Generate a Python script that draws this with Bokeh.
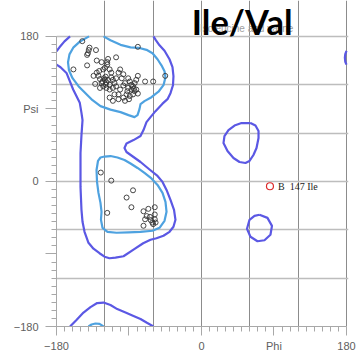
from bokeh.plotting import figure
from bokeh.models import FixedTicker, Range1d
from bokeh.core.properties import value
from bokeh.embed import file_html
from bokeh.resources import INLINE

# ---- residues (phi, psi) ----
beta_phi = [-148, -139, -140, -141, -142, -131, -79, -159, -142, -130, -124, -116, -117, -117, -106,
            -120, -122, -127, -130, -134, -128, -114, -112, -101, -103, -97, -99, -126, -123, -120,
            -118, -116, -119, -114, -110, -108, -106, -132, -126, -122, -118, -114, -110, -106, -101,
            -97, -91, -89, -87, -85, -83, -81, -79, -87, -83, -81, -91, -114, -108, -103, -103, -97,
            -93, -89, -85, -79, -95, -90, -70, -60, -45, -110, -121, -119, -124, -112, -95, -92, -84]
beta_psi = [174, 166, 163, 159, 157, 163, 167, 139, 144, 150, 148, 152, 148, 145, 154,
            141, 139, 137, 135, 131, 131, 139, 135, 139, 135, 133, 128, 127, 124, 126,
            123, 126, 120, 120, 126, 122, 128, 121, 116, 118, 116, 114, 116, 118, 114,
            119, 128, 124, 120, 118, 122, 126, 131, 114, 112, 114, 116, 104, 108, 108, 102, 104,
            108, 106, 108, 109, 100, 102, 124, 124, 131, 100, 128, 130, 122, 129, 122, 112, 115]
alpha_phi = [-125, -112, -85, -93, -87, -117, -72, -66, -58, -68, -64, -58, -70, -63, -58, -61, -57, -60, -72]
alpha_psi = [11, 1, -11, -20, -32, -39, -37, -34, -32, -43, -44, -41, -47, -48, -47, -51, -51, -53, -55]
outlier_phi = [85]
outlier_psi = [-6]
outlier_label = ["B\u00a0\u00a0147 Ile"]

title_text = ["Ile/Val"]
subtitle_text = ["Isoleucine and valine"]

# ---- contours (phi, psi) ----
allowed_main_phi = [-180.0, -175.0, -167.6, -159.3, -151.1, -149.0, -147.7, -149.0, -150.2, -150.2, -149.0,
                    -147.7, -145.2, -140.3, -134.1, -126.6, -120.4, -114.2, -106.8, -96.8, -84.4, -72.4,
                    -63.3, -55.9, -47.2, -39.7, -34.8, -32.3, -34.1, -38.5, -43.4, -48.4, -54.6, -64.5,
                    -75.7, -84.4, -93.1, -95.6, -93.1, -84.4, -75.7, -72.0, -68.3, -63.3, -57.1, -48.4,
                    -42.2, -38.5, -35.4, -34.8, -36.0, -39.7, -45.9, -52.1, -56.5, -59.6]
allowed_main_psi = [145.0, 141.7, 134.6, 114.1, 97.5, 85.1, 76.1, 57.5, 35.3, -6.8, -35.3,
                    -50.1, -62.5, -76.1, -83.5, -89.1, -93.4, -95.3, -94.6, -92.8, -84.7, -76.7,
                    -72.4, -70.5, -67.4, -62.5, -56.3, -47.6, -35.3, -22.9, -10.5, -0.6, 6.8, 14.8,
                    24.1, 30.3, 36.5, 41.4, 47.0, 51.3, 56.3, 63.7, 73.6, 79.8, 87.2, 96.5,
                    102.1, 109.5, 119.4, 130.5, 141.7, 151.6, 162.1, 168.9, 175.1, 180.0]
allowed_topleft_phi = [-163.2, -170.1, -176.3, -180.0]
allowed_topleft_psi = [180.0, 173.8, 166.4, 161.5]
allowed_bottom_phi = [-163.2, -155.2, -146.5, -137.8, -129.5, -121.6, -113.0, -104.6, -94.3, -84.4, -75.7, -68.3, -59.6]
allowed_bottom_psi = [-180.0, -172.0, -162.7, -155.9, -150.9, -150.3, -153.4, -158.4, -162.7, -167.0, -170.7, -175.1, -180.0]
allowed_right_phi = [180.0, 178.5, 178.0, 178.5, 180.0]
allowed_right_psi = [162.0, 158.0, 153.5, 148.5, 145.0]
allowed_lalpha_phi = [60.8, 67.0, 70.8, 70.8, 68.3, 64.5, 59.6, 54.6, 47.2, 39.7, 32.3, 27.3, 28.5, 33.5, 41.0, 49.7, 60.8]
allowed_lalpha_psi = [72.4, 69.3, 62.5, 53.8, 41.4, 32.8, 25.4, 22.9, 24.1, 29.1, 37.7, 47.6, 56.3, 63.7, 69.3, 72.4, 72.4]
allowed_gamma_phi = [72.0, 81.9, 87.5, 85.6, 78.2, 69.5, 60.8, 56.5, 59.6, 65.8, 72.0]
allowed_gamma_psi = [-41.4, -45.2, -55.1, -66.2, -73.0, -74.2, -68.7, -58.8, -47.6, -42.7, -41.4]

favored_beta_phi = [-121.6, -113.0, -100.5, -88.1, -78.2, -68.3, -60.8, -54.6, -49.7, -45.9, -44.7, -47.2,
                    -53.4, -62.1, -70.8, -75.7, -77.0, -79.4, -83.2, -90.6, -100.5, -113.0, -125.4,
                    -135.3, -144.0, -152.7, -160.1, -164.5, -165.7, -163.9, -158.9, -151.4, -144.0, -139.6]
favored_beta_psi = [180.0, 175.1, 169.5, 166.4, 165.8, 163.3, 159.0, 151.6, 144.1, 136.7, 129.3, 119.4,
                    111.3, 104.5, 99.6, 95.9, 89.7, 82.3, 79.8, 82.3, 86.0, 89.1, 93.4,
                    100.8, 109.5, 118.2, 128.1, 137.9, 147.8, 157.7, 166.4, 173.2, 177.5, 180.0]
favored_bottom_phi = [-140.3, -136.5, -131.6, -126.6, -121.6]
favored_bottom_psi = [-180.0, -177.5, -176.3, -176.7, -180.0]
favored_alpha_phi = [-120.4, -113.0, -104.3, -95.6, -88.1, -79.4, -70.8, -62.1, -54.6, -48.4, -44.7, -43.4,
                     -45.9, -52.1, -60.8, -75.7, -90.6, -105.5, -116.7, -122.9, -124.8, -124.1, -125.4,
                     -127.9, -129.7, -130.3, -128.5, -125.4, -120.4]
favored_alpha_psi = [30.9, 31.5, 29.7, 26.6, 22.3, 16.7, 10.5, 3.7, -4.3, -14.2, -25.4, -37.7,
                     -48.9, -57.5, -61.2, -62.5, -63.1, -63.7, -62.5, -57.5, -47.6, -37.7, -26.6,
                     -14.2, -0.6, 14.2, 25.4, 29.7, 30.9]

# ---- axes ticks ----
major_ticks = [-180, -90, 0, 90, 180]
minor_ticks = list(range(-180, 181, 10))
vgrid_ticks = [-120, -60, 0, 60, 120, 180]
hgrid_ticks = [-120, -60, 0, 60, 120, 180]
x_overrides = {-90: "", 90: "Phi"}
y_overrides = {-90: "", 90: "Psi"}

ALLOWED = "#5b58e4"
FAVORED = "#4ea2e0"
FRAME = "#a8a8a8"

# frame extended upward (title space) and 2px to the right so the 180 borders are fully visible
p = figure(width=358, height=354, x_range=Range1d(-180, 182.5), y_range=Range1d(-180, 224.5),
           output_backend="svg", toolbar_location=None,
           min_border_left=56, min_border_right=10, min_border_top=0, min_border_bottom=27)
p.background_fill_color = "white"
p.border_fill_color = "white"
p.outline_line_color = None

p.xgrid.ticker = FixedTicker(ticks=vgrid_ticks)
p.ygrid.ticker = FixedTicker(ticks=hgrid_ticks)
p.xgrid.bounds = (-180, 180)
p.ygrid.bounds = (-180, 180)
p.xgrid.grid_line_color = "#8c8c8c"
p.xgrid.grid_line_width = 1
p.ygrid.grid_line_color = "#bdbdbd"
p.ygrid.grid_line_width = 1.6

for ax, ov in ((p.xaxis[0], x_overrides), (p.yaxis[0], y_overrides)):
    ax.bounds = (-180, 180)
    ax.ticker = FixedTicker(ticks=major_ticks, minor_ticks=minor_ticks)
    ax.major_label_overrides = ov
    ax.axis_line_color = FRAME
    ax.major_tick_line_color = FRAME
    ax.minor_tick_line_color = FRAME
    ax.major_tick_in = 0
    ax.minor_tick_in = 0
    ax.minor_tick_out = 5
    ax.major_label_text_color = "#606060"
    ax.major_label_text_font = "Liberation Sans"
    ax.major_label_text_font_size = "11px"
p.xaxis.major_tick_out = 9
p.xaxis.major_label_standoff = 4
p.yaxis.major_tick_out = 11
p.yaxis.major_label_standoff = 7

# contours
p.multi_line(xs=[allowed_main_phi, allowed_topleft_phi, allowed_bottom_phi, allowed_right_phi,
                 allowed_lalpha_phi, allowed_gamma_phi],
             ys=[allowed_main_psi, allowed_topleft_psi, allowed_bottom_psi, allowed_right_psi,
                 allowed_lalpha_psi, allowed_gamma_psi],
             line_color=ALLOWED, line_width=2.2, line_join="round")
p.multi_line(xs=[favored_beta_phi, favored_bottom_phi, favored_alpha_phi],
             ys=[favored_beta_psi, favored_bottom_psi, favored_alpha_psi],
             line_color=FAVORED, line_width=2.2, line_join="round")

# residues
p.scatter(beta_phi + alpha_phi, beta_psi + alpha_psi, marker="circle", size=5,
          fill_color=None, line_color="#333333", line_width=0.9)
p.scatter(outlier_phi, outlier_psi, marker="circle", size=7,
          fill_color=None, line_color="#dd2a2a", line_width=1.2)
p.text(outlier_phi, outlier_psi, text=outlier_label, x_offset=8,
       text_font=value("Liberation Serif"), text_font_size="10px",
       text_baseline="middle", text_color="#222222")

# titles (drawn inside the extended frame area above psi = 180)
p.text(x=[-2.0], y=[189.5], text=subtitle_text, text_font=value("Liberation Sans"),
       text_font_size="10px", text_color="#a0a0a0", text_align="left", text_baseline="alphabetic")
p.text(x=[50.5], y=[198.5], text=title_text, text_font=value("Lato"), text_font_style="bold",
       text_font_size="34.5px", text_color="black", text_align="center", text_baseline="alphabetic")

open("out.html", "w").write(file_html(p, INLINE))
